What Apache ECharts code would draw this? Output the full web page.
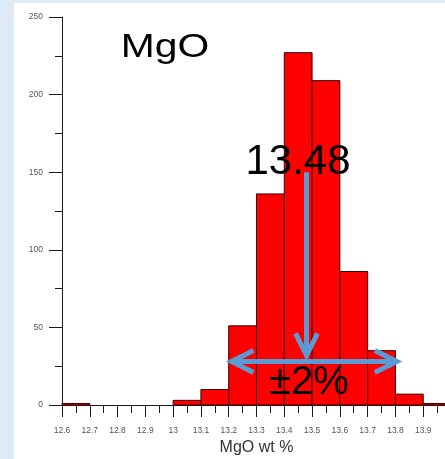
<!DOCTYPE html>
<html><head><meta charset="utf-8">
<script src="https://cdn.jsdelivr.net/npm/echarts@6/dist/echarts.min.js"></script>
<style>html,body{margin:0;padding:0;background:#DEEBF7;overflow:hidden}#c{width:445px;height:459px}</style>
</head><body><div id="c"></div>
<script>
// ---- data ----
const binStarts = [12.6, 12.7, 12.8, 12.9, 13.0, 13.1, 13.2, 13.3, 13.4, 13.5, 13.6, 13.7, 13.8, 13.9];
const binWidth = 0.1;
const counts = [1, 0, 0, 0, 3, 10, 51, 136, 227, 209, 86, 35, 7, 1];
const xTickLabels = ['12.6','12.7','12.8','12.9','13','13.1','13.2','13.3','13.4','13.5','13.6','13.7','13.8','13.9'];
const yTickLabels = ['0','50','100','150','200','250'];
const titleText = 'MgO';
const xAxisTitle = 'MgO wt %';
const meanValue = 13.48;
const meanLabel = '13.48';
const meanArrowFrom = [150];
const meanArrowTo = [32];
const rangeEnds = [13.21, 13.805];
const rangeLevel = [28];
const rangeLabel = '±2%';

// ---- chart ----
const chart = echarts.init(document.getElementById('c'), null, {renderer: 'canvas'});
const AX = '#1a1a1a', LAB = '#555', BLUE = '#5B9BD5';
const font = '"Liberation Sans", Arial, sans-serif';

chart.setOption({
  backgroundColor: '#DEEBF7',
  animation: false,
  grid: {left: 62, right: -6, top: 17, bottom: 54, outerBoundsMode: 'none', containLabel: false},
  xAxis: {
    type: 'value', min: 12.6, max: 14.0, interval: 0.1,
    name: xAxisTitle, nameLocation: 'middle', nameGap: 35,
    nameTextStyle: {fontFamily: font, fontSize: 16, color: '#333'},
    axisLine: {show: true, onZero: false, lineStyle: {color: AX, width: 1}},
    axisTick: {show: true, length: 12, lineStyle: {color: AX}},
    minorTick: {show: true, splitNumber: 2, length: 8, lineStyle: {color: AX}},
    splitLine: {show: false},
    axisLabel: {
      fontFamily: font, fontSize: 8.5, color: LAB, margin: 21,
      formatter: v => { const s = String(+(+v).toFixed(2)); return xTickLabels.indexOf(s) >= 0 ? s : ''; }
    }
  },
  yAxis: {
    type: 'value', min: 0, max: 250, interval: 50,
    axisLine: {show: true, lineStyle: {color: AX, width: 1}},
    axisTick: {show: true, length: 13, lineStyle: {color: AX}},
    minorTick: {show: true, splitNumber: 2, length: 7, lineStyle: {color: AX}},
    splitLine: {show: false},
    axisLabel: {
      fontFamily: font, fontSize: 8.5, color: LAB, margin: 19,
      formatter: v => { const s = String(v); return yTickLabels.indexOf(s) >= 0 ? s : ''; }
    }
  },
  series: [{
    type: 'custom',
    clip: false,
    data: binStarts.map((s, i) => [s, +(s + binWidth).toFixed(2), counts[i]]).filter(d => d[2] > 0),
    renderItem: function (params, api) {
      const p0 = api.coord([api.value(0), api.value(2)]);
      const p1 = api.coord([api.value(1), 0]);
      return {
        type: 'rect',
        shape: {x: p0[0], y: p0[1], width: p1[0] - p0[0], height: p1[1] - p0[1]},
        style: {fill: '#FF0000', stroke: '#3a0000', lineWidth: 1}
      };
    }
  }]
});

function px(x, y) { return chart.convertToPixel({gridIndex: 0}, [x, y]); }

const aTop = px(meanValue, meanArrowFrom[0]);
const aTip = px(meanValue, meanArrowTo[0]);
const rl = px(rangeEnds[0], rangeLevel[0]);
const rr = px(rangeEnds[1], rangeLevel[0]);
const AW = 11, AH = 22;
const lineStyle = {stroke: BLUE, lineWidth: 5, lineCap: 'butt', lineJoin: 'miter', fill: null};

chart.setOption({
  graphic: [
    {type: 'rect', z: -10, silent: true, shape: {x: 14, y: 3, width: 440, height: 470}, style: {fill: '#FFFFFF'}},
    {type: 'text', z: 100, style: {text: titleText, x: 165, y: 48, font: '34px ' + font, fill: '#000', align: 'center', verticalAlign: 'middle'}, scaleX: 1.2, originX: 165, originY: 48},
    {type: 'text', z: 100, style: {text: meanLabel, x: 298, y: 162, font: '42px ' + font, fill: '#000', align: 'center', verticalAlign: 'middle'}},
    {type: 'text', z: 100, style: {text: rangeLabel, x: 309, y: 383, font: '40px ' + font, fill: '#000', align: 'center', verticalAlign: 'middle'}},
    {type: 'line', z: 101, shape: {x1: aTop[0], y1: aTop[1], x2: aTip[0], y2: aTip[1] - 3}, style: lineStyle},
    {type: 'polyline', z: 101, shape: {points: [[aTip[0] - AW, aTip[1] - AH], [aTip[0], aTip[1]], [aTip[0] + AW, aTip[1] - AH]]}, style: lineStyle},
    {type: 'line', z: 101, shape: {x1: rl[0] + 3, y1: rl[1], x2: rr[0] - 3, y2: rr[1]}, style: lineStyle},
    {type: 'polyline', z: 101, shape: {points: [[rl[0] + AH, rl[1] - AW], [rl[0], rl[1]], [rl[0] + AH, rl[1] + AW]]}, style: lineStyle},
    {type: 'polyline', z: 101, shape: {points: [[rr[0] - AH, rr[1] - AW], [rr[0], rr[1]], [rr[0] - AH, rr[1] + AW]]}, style: lineStyle}
  ]
});
</script></body></html>
